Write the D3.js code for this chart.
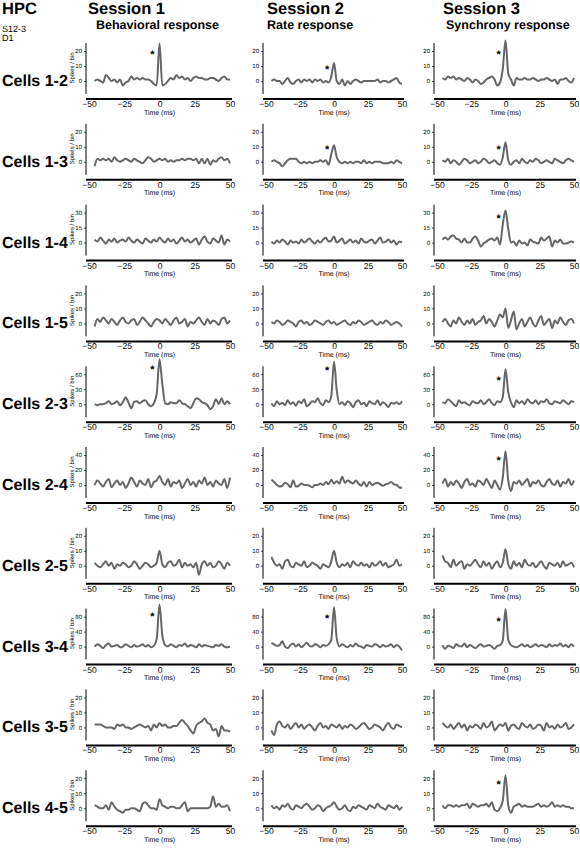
<!DOCTYPE html>
<html>
<head>
<meta charset="utf-8">
<script src="https://cdn.jsdelivr.net/npm/d3@7"></script>
<style>
  body { margin: 0; background: #fff; }
  svg { display: block; font-family: "Liberation Sans", Arial, sans-serif; }
</style>
</head>
<body>
<div id="chart"></div>
<script>
// Cross-correlograms, HPC S12-3 D1 — 10 cell pairs x 3 sessions

const lags = [-46,-44,-42,-40,-38,-36,-34,-32,-30,-28,-26,-24,-22,-20,-18,-16,-14,-12,-10,-8,-6,-4,-2,0,
  2,4,6,8,10,12,14,16,18,20,22,24,26,28,30,32,34,36,38,40,42,44,46,48,50];
const xTicks = [-50, -25, 0, 25, 50];
const sessions = ["Session 1", "Session 2", "Session 3"];
const responses = ["Behavioral response", "Rate response", "Synchrony response"];
const cellPairs = ["Cells 1-2", "Cells 1-3", "Cells 1-4", "Cells 1-5", "Cells 2-3",
  "Cells 2-4", "Cells 2-5", "Cells 3-4", "Cells 3-5", "Cells 4-5"];
const yTickStep = [10, 10, 15, 10, 30, 20, 10, 40, 10, 10];

// spikes / bin, one array per session
const cells12 = [
  [0,1,0,-1,4,2,0,1,-1,1,-3,-1,0,3,1,2,1,2,1,1,0,-2,-3,25,-3,-2,0,2,1,4,2,3,1,2,0,2,3,2,2,1,1,2,2,1,0,2,3,1,1],
  [0,1,0,0,-2,0,2,-1,-2,0,1,-1,1,0,1,-1,1,0,1,-1,0,-1,3,12,0,-2,1,-3,0,-2,0,1,0,-1,0,0,0,0,0,1,-1,0,0,-1,0,1,2,-1,-2],
  [2,1,3,2,3,1,2,1,0,2,1,-1,1,0,-2,-1,1,2,3,1,-3,-1,8,27,5,1,-3,2,1,1,2,1,1,2,1,0,1,1,2,1,0,1,-2,1,1,2,0,-1,2]
];
const cells13 = [
  [-3,2,1,2,1,2,0,3,1,0,1,2,1,0,2,1,0,-1,1,3,2,0,1,2,1,2,0,1,0,1,1,2,1,2,2,1,2,-1,2,-1,2,-2,1,0,2,3,1,2,-1],
  [0,1,0,-1,-3,-1,1,2,2,2,0,-1,0,-1,0,-1,0,0,1,0,1,-2,5,11,3,0,-1,0,-1,0,-1,0,0,-1,1,-1,0,-1,0,0,0,-1,-1,-1,0,-1,1,0,-1],
  [1,0,2,-1,1,0,-2,0,2,1,-1,0,1,-1,0,2,1,-1,0,1,-1,-2,3,13,1,-2,0,1,-1,2,0,-1,1,0,2,1,-1,0,1,0,-1,2,1,0,-1,1,2,1,0]
];
const cells14 = [
  [3,1,5,2,-1,3,1,4,0,2,3,1,5,2,0,3,1,-1,4,2,0,3,1,5,2,0,4,1,3,-1,2,5,1,3,0,2,4,-2,3,6,1,-1,4,2,0,7,-2,3,1],
  [1,-1,2,0,3,1,-2,2,0,1,-1,3,0,2,4,1,-1,2,0,3,5,1,2,6,0,2,4,-1,1,3,0,2,-1,4,1,0,2,3,-1,2,5,0,1,3,0,2,-2,1,0],
  [3,5,3,6,7,4,3,0,4,0,0,4,6,2,-4,-1,1,3,4,2,5,-2,18,32,14,0,1,-3,2,-1,0,-3,3,1,0,-1,5,2,4,6,-4,2,0,3,-1,-1,0,1,0]
];
const cells15 = [
  [-2,3,1,4,2,0,3,1,-1,2,4,1,0,2,3,-1,1,4,2,0,-2,1,3,2,0,3,1,-1,2,4,0,1,3,-2,1,0,2,4,1,-1,3,0,2,1,-1,3,4,0,2],
  [1,0,2,1,-1,0,2,1,0,-2,1,2,0,1,-1,0,2,1,0,-1,1,2,0,1,-1,0,1,2,0,-1,1,0,2,1,-1,0,1,2,0,-1,1,0,2,1,-1,0,1,0,-2],
  [1,3,0,-2,2,0,4,1,-1,2,0,3,-1,1,2,5,0,3,1,-2,2,6,4,10,-3,2,8,-4,0,3,-2,1,4,0,-2,2,5,-1,1,3,-3,2,0,4,1,-1,2,3,0]
];
const cells23 = [
  [0,-2,0,0,2,6,0,2,6,-2,4,14,3,-8,5,6,2,6,8,0,-4,2,20,90,40,2,0,4,2,2,8,2,0,-4,-8,2,12,10,4,2,-2,-10,-4,10,0,12,0,6,0],
  [2,-4,6,0,3,-2,8,0,4,-3,6,2,10,-4,0,6,4,12,2,-2,8,4,16,85,28,0,4,-2,6,2,-6,4,8,0,3,-4,6,2,0,8,-2,4,0,-6,3,1,4,0,6],
  [4,2,10,6,0,-4,8,2,4,0,-2,6,3,2,8,0,4,10,2,-2,6,4,14,70,24,4,-6,8,2,6,0,10,4,2,8,0,6,4,10,2,0,6,4,2,8,4,0,6,4]
];
const cells24 = [
  [0,6,2,-2,4,8,-3,2,6,0,4,-4,2,10,4,-2,6,2,0,8,-3,4,6,12,4,0,8,-2,4,2,6,-4,2,8,0,4,-2,6,2,10,0,4,-2,6,2,0,8,-4,10],
  [7,4,0,-2,-1,3,1,-3,6,-2,-1,2,0,0,-1,-3,0,0,2,0,4,1,7,2,5,2,11,3,6,4,2,6,2,-1,4,-2,4,0,2,3,1,-1,1,2,4,1,0,-3,-4],
  [2,8,-2,4,0,6,2,-4,4,8,0,2,-2,6,4,0,8,2,-4,6,0,-6,10,45,6,-8,4,2,6,0,4,8,-2,4,2,6,0,-2,4,8,2,0,6,-2,4,2,8,0,6]
];
const cells25 = [
  [2,0,-1,1,3,0,2,-2,1,0,2,1,-1,0,3,1,-2,0,2,1,-1,0,2,10,1,-1,2,3,0,1,4,-1,2,0,1,-1,2,-6,1,3,0,2,-1,0,3,1,-2,2,0],
  [6,2,0,1,-2,3,4,0,-1,2,1,0,3,-1,0,2,1,0,-2,1,0,-1,3,10,2,-1,1,0,2,-1,3,1,0,2,0,1,-1,2,0,1,3,0,2,-1,0,1,4,0,1],
  [7,3,2,-1,4,0,2,3,-2,1,0,2,4,1,-1,3,0,2,-2,1,3,-1,2,11,1,-2,3,0,2,-1,4,1,0,2,-1,1,3,0,-2,2,1,0,2,-1,3,0,1,2,-1]
];
const cells34 = [
  [0,6,2,-4,4,8,0,2,4,-2,0,6,2,-2,4,0,2,6,0,4,-2,2,20,112,30,4,0,6,2,-2,4,2,8,0,4,2,-2,6,0,4,2,0,-2,4,2,6,0,-2,0],
  [10,6,2,4,14,0,-4,4,8,0,6,-2,4,10,2,0,6,4,-2,4,2,6,18,105,22,0,6,2,-2,4,0,8,2,0,-4,4,2,0,6,4,-2,4,0,2,6,-2,4,0,-10],
  [4,-6,2,0,-4,6,2,0,8,-2,4,0,-4,2,6,0,2,4,0,-6,2,4,16,100,18,4,0,-2,2,6,0,4,-2,2,6,0,4,2,-2,6,0,4,2,8,0,4,-2,6,0]
];
const cells35 = [
  [2,2,2,1,0,0,0,-1,2,1,2,0,0,-1,0,1,2,1,0,1,-2,2,0,3,1,2,0,0,1,1,3,5,3,1,-2,-4,1,3,4,6,3,2,-2,-1,-6,1,-2,-2,-3],
  [-2,-5,2,4,1,0,2,-1,1,3,0,2,-1,1,2,0,-2,1,3,0,1,-1,2,1,0,2,-1,1,0,2,1,-1,0,2,3,1,-1,0,2,1,0,-2,1,3,0,-1,2,1,0],
  [3,1,0,2,-1,1,3,0,2,-2,1,0,2,1,-1,3,0,1,4,-2,0,2,1,3,-2,1,2,0,-1,3,1,0,2,-1,0,2,1,-2,3,0,1,-1,2,0,1,3,-1,0,2]
];
const cells45 = [
  [2,1,0,0,2,-1,4,1,-1,-2,-3,-1,-1,0,0,-1,-2,3,4,2,0,0,-1,6,2,1,0,1,1,0,0,2,4,-2,0,0,0,0,0,0,0,1,8,1,3,1,1,2,-2],
  [2,0,1,-1,2,1,3,0,-1,2,1,0,2,3,1,-1,0,2,1,-2,0,1,2,4,1,-1,0,2,-1,-2,1,0,2,1,0,-1,2,1,0,3,1,0,-1,2,1,0,2,-1,1],
  [2,0,2,2,1,2,1,2,2,3,0,3,2,1,2,2,3,1,4,-1,-2,0,5,22,2,-3,1,2,3,1,2,1,1,1,2,3,1,2,1,2,4,1,2,1,2,1,1,0,0]
];
const rows = [cells12, cells13, cells14, cells15, cells23, cells24, cells25, cells34, cells35, cells45];

// significance markers (*), value at lag -5 ms; null = none
const starLag = -5;
const starValues = [
  [19, 9, 19], [null, 9, 9], [null, null, 26], [null, null, null], [72, 70, 50],
  [null, null, 35], [null, null, null], [85, 80, 70], [null, null, null], [null, null, 17]
];

const width = 580, height = 850;
const colX = [[89, 230], [266, 402], [437, 574]];
const rowAxisY = i => 99 + i * 80.8;
const unitPx = 15;      // px between y ticks
const zeroAbove = 18;   // zero line above bottom axis
const lineColor = "#666";

const svg = d3.select("#chart").append("svg")
  .attr("width", width)
  .attr("height", height)
  .attr("text-rendering", "geometricPrecision");

svg.append("rect").attr("width", width).attr("height", height).attr("fill", "#fff");

// headers
svg.append("text").attr("x", 2).attr("y", 14).attr("font-size", 16.5).attr("font-weight", "bold").text("HPC");
svg.append("text").attr("x", 2).attr("y", 32).attr("font-size", 9).text("S12-3");
svg.append("text").attr("x", 2).attr("y", 41).attr("font-size", 9).text("D1");

const headX = [[88, 96], [267, 267], [443, 446]];
sessions.forEach((s, j) => {
  svg.append("text").attr("x", headX[j][0]).attr("y", 14)
    .attr("font-size", 16.5).attr("font-weight", "bold").text(s);
  svg.append("text").attr("x", headX[j][1]).attr("y", 29)
    .attr("font-size", 12.5).attr("font-weight", "bold").text(responses[j]);
});

rows.forEach((row, i) => {
  const axisY = rowAxisY(i);
  const step = yTickStep[i];

  svg.append("text").attr("x", 2).attr("y", axisY - 13)
    .attr("font-size", 16).attr("font-weight", "bold").text(cellPairs[i]);

  row.forEach((series, j) => {
    const x = d3.scaleLinear().domain([-50, 50]).range(colX[j]);
    const y = d3.scaleLinear()
      .domain([0, step])
      .range([axisY - zeroAbove, axisY - zeroAbove - unitPx]);
    const yAxisX = colX[j][0] - 3;

    const g = svg.append("g");

    // y axis
    g.append("line")
      .attr("x1", yAxisX).attr("x2", yAxisX)
      .attr("y1", axisY - 5).attr("y2", axisY - 56)
      .attr("stroke", "#000").attr("stroke-width", 1);

    g.append("g")
      .attr("transform", `translate(${yAxisX},0)`)
      .call(d3.axisLeft(y).tickValues([0, step, 2 * step]).tickSize(2).tickPadding(2))
      .call(a => a.select(".domain").remove())
      .call(a => a.selectAll("text").attr("font-size", 6).attr("font-family", null))
      .call(a => a.selectAll("line").attr("stroke-width", 0.7));

    // x axis
    g.append("line")
      .attr("x1", yAxisX).attr("x2", colX[j][1] + 2)
      .attr("y1", axisY).attr("y2", axisY)
      .attr("stroke", "#000").attr("stroke-width", 2);

    g.append("g")
      .attr("transform", `translate(0,${axisY})`)
      .call(d3.axisBottom(x).tickValues(xTicks).tickSize(0).tickPadding(2))
      .call(a => a.select(".domain").remove())
      .call(a => a.selectAll("text").attr("font-size", 8.5).attr("font-family", null));

    g.append("text")
      .attr("x", x(0)).attr("y", axisY + 15.5)
      .attr("text-anchor", "middle").attr("font-size", 7)
      .attr("fill", "#000")
      .text("Time (ms)");

    if (j === 0) {
      g.append("text")
        .attr("transform", `translate(${yAxisX - 12},${axisY - 31}) rotate(-90)`)
        .attr("text-anchor", "middle").attr("font-size", 6)
        .text("Spikes / bin");
    }

    const line = d3.line()
      .x((d, k) => x(lags[k]))
      .y(d => y(d))
      .curve(d3.curveMonotoneX);

    g.append("path")
      .datum(series)
      .attr("d", line)
      .attr("fill", "none")
      .attr("stroke", lineColor)
      .attr("stroke-width", 2)
      .attr("stroke-linejoin", "round");

    const sv = starValues[i][j];
    if (sv !== null) {
      g.append("text")
        .attr("x", x(starLag)).attr("y", y(sv) + 5)
        .attr("text-anchor", "middle")
        .attr("font-size", 11).attr("font-weight", "bold")
        .text("*");
    }
  });
});
</script>
</body>
</html>
